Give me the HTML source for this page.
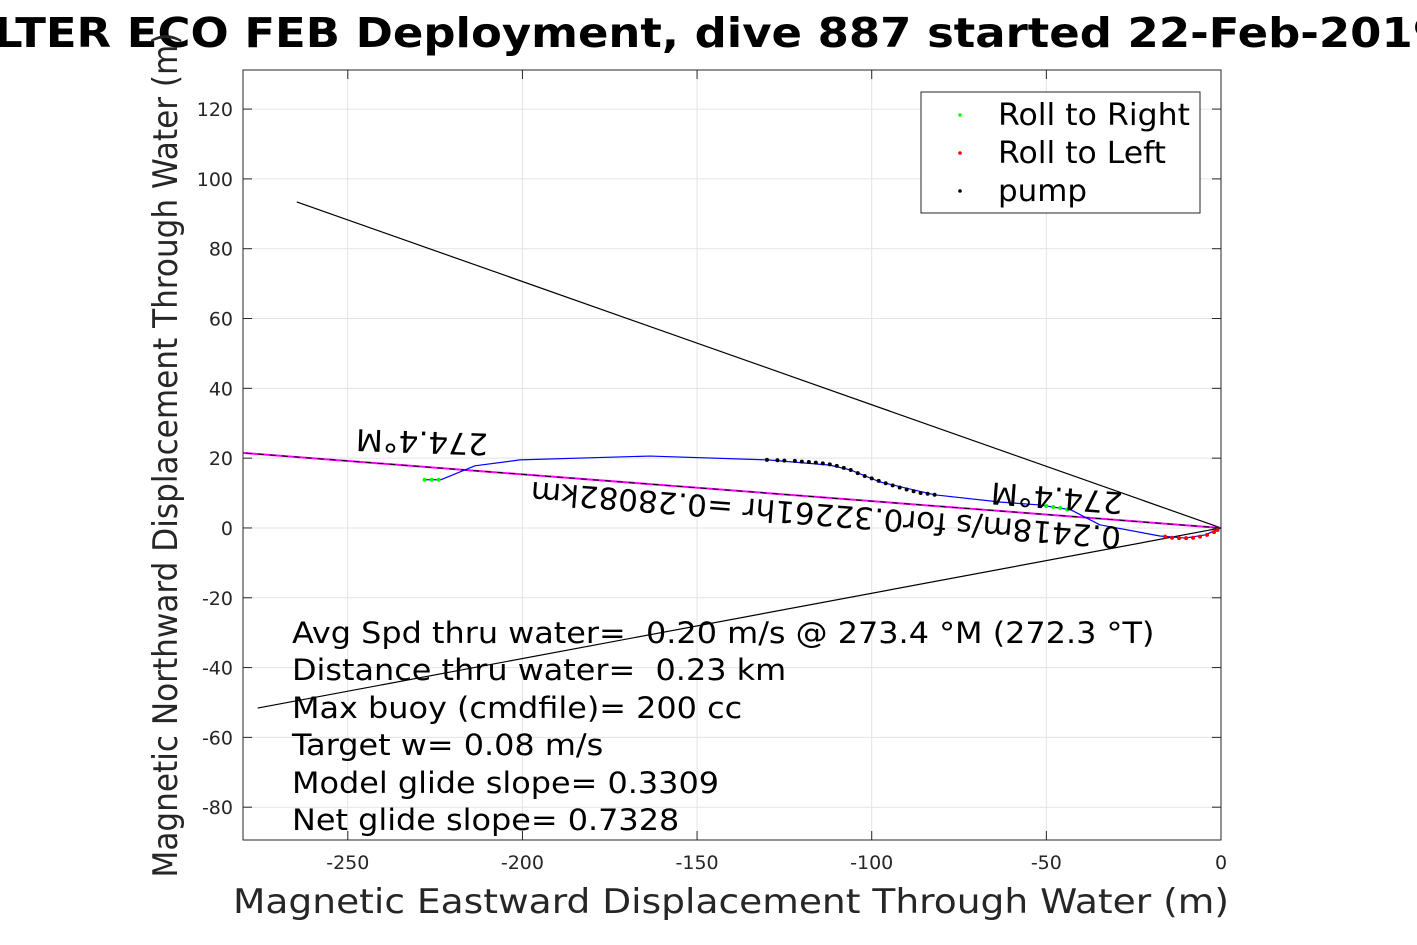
<!DOCTYPE html>
<html><head><meta charset="utf-8"><style>
body{margin:0;background:#fff;overflow:hidden}
svg{display:block;font-family:"DejaVu Sans","Liberation Sans",sans-serif}
text{white-space:pre}
</style></head><body>
<svg width="1417" height="945" viewBox="0 0 1417 945" xmlns="http://www.w3.org/2000/svg">
<rect width="1417" height="945" fill="#fff"/>
<g id="grid"></g>
<g id="marks"></g>
<rect x="243" y="70" width="978" height="770" fill="none" stroke="#262626" stroke-width="1"/>
<g id="ticks" font-size="19" fill="#262626"></g>
<text x="-6" y="47" font-size="41" font-weight="bold" fill="#000" textLength="1450" lengthAdjust="spacingAndGlyphs">LTER ECO FEB Deployment, dive 887 started 22-Feb-2019</text>
<text x="731" y="913" font-size="34" text-anchor="middle" fill="#262626" textLength="996" lengthAdjust="spacingAndGlyphs">Magnetic Eastward Displacement Through Water (m)</text>
<text transform="translate(177,455) rotate(-90)" font-size="34" text-anchor="middle" fill="#262626" textLength="845" lengthAdjust="spacingAndGlyphs">Magnetic Northward Displacement Through Water (m)</text>
<g>
<rect x="921" y="92" width="279" height="121" fill="#fff" stroke="#262626" stroke-width="1"/>
<circle cx="960" cy="115" r="1.8" fill="#00ff00"/><text x="998" y="125" font-size="30" textLength="192" lengthAdjust="spacingAndGlyphs">Roll to Right</text>
<circle cx="960" cy="153" r="1.8" fill="#ff0000"/><text x="998" y="163" font-size="30" textLength="168" lengthAdjust="spacingAndGlyphs">Roll to Left</text>
<circle cx="960" cy="191" r="1.8" fill="#000"/><text x="998" y="201" font-size="30" textLength="89" lengthAdjust="spacingAndGlyphs">pump</text>
</g>
<g font-size="29" fill="#000" transform="translate(292,0) scale(1.1,1) translate(-292,0)">
<text x="292" y="643" xml:space="preserve">Avg Spd thru water=  0.20 m/s @ 273.4 °M (272.3 °T)</text>
<text x="292" y="680" xml:space="preserve">Distance thru water=  0.23 km</text>
<text x="292" y="718">Max buoy (cmdfile)= 200 cc</text>
<text x="292" y="755">Target w= 0.08 m/s</text>
<text x="292" y="793">Model glide slope= 0.3309</text>
<text x="292" y="830">Net glide slope= 0.7328</text>
</g>
<text transform="translate(422,440) rotate(182)" font-size="30" text-anchor="middle" dominant-baseline="middle" textLength="132" lengthAdjust="spacingAndGlyphs">274.4°M</text>
<text transform="translate(1057,496) rotate(184.4)" font-size="30" text-anchor="middle" dominant-baseline="middle" textLength="132" lengthAdjust="spacingAndGlyphs">274.4°M</text>
<text transform="translate(826,513) rotate(184.4)" font-size="30" text-anchor="middle" dominant-baseline="middle" textLength="592" lengthAdjust="spacingAndGlyphs">0.2418m/s for0.32261hr =0.28082km</text>
<script>
const xTicks=[-250,-200,-150,-100,-50,0];
const yTicks=[-80,-60,-40,-20,0,20,40,60,80,100,120];
const trackX=[-228,-223.4,-213.6,-200.7,-163.5,-129.7,-112,-106,-97.7,-82,-63,-52,-43,-34.7,-17.5,-10.3,-4.6,0];
const trackY=[13.8,13.8,17.8,19.5,20.6,19.5,18,16.6,13.2,9.5,7.4,6.6,5.2,0.9,-2.3,-2.9,-2,0];
const pumpX=[-130,-127,-125,-122,-120,-118,-116,-114,-112,-110,-108,-106,-104,-102,-100,-98,-96,-94,-92,-90,-88,-86,-84,-82];
const pumpY=[19.5,19.4,19.3,19.2,19,18.9,18.7,18.5,18.2,17.8,17.2,16.6,15.7,14.9,14.2,13.5,12.8,12.2,11.6,11,10.5,10,9.8,9.5];
const greenX=[-228,-226,-224,-50,-48,-46,-44];
const greenY=[13.8,13.8,13.8,6.3,6,5.7,5.3];
const redX=[-16,-14,-12,-10,-8,-6,-4,-2,-1];
const redY=[-2.5,-2.8,-2.9,-2.9,-2.8,-2.5,-2,-1.2,-0.6];
const lineUpper=[[0,0],[-264.6,93.4]];
const lineLower=[[0,0],[-275.8,-51.6]];
const lineCurrent=[[0,0],[-280,21.5]];
const X0=243,X1=1221,Y0=70,Y1=840,xmin=-280,xmax=0,ymin=-89.4,ymax=131.2;
const sx=v=>X0+(v-xmin)/(xmax-xmin)*(X1-X0);
const sy=v=>Y1-(v-ymin)/(ymax-ymin)*(Y1-Y0);
const NS='http://www.w3.org/2000/svg';
function mk(p,t,a){const e=document.createElementNS(NS,t);for(const k in a)e.setAttribute(k,a[k]);p.appendChild(e);return e;}
const grid=document.getElementById('grid'),ticks=document.getElementById('ticks'),marks=document.getElementById('marks');
xTicks.forEach(v=>{const x=sx(v);
 const g=mk(grid,'line',{x1:x,x2:x,y1:Y0,y2:Y1,stroke:'#e3e3e3','stroke-width':1});
 
 const t=mk(ticks,'text',{x:x,y:869,'text-anchor':'middle'});t.textContent=v;
 
 mk(ticks,'line',{x1:x,x2:x,y1:Y1,y2:Y1-9,stroke:'#262626'});mk(ticks,'line',{x1:x,x2:x,y1:Y0,y2:Y0+9,stroke:'#262626'});});
yTicks.forEach(v=>{const y=sy(v);
 const g=mk(grid,'line',{x1:X0,x2:X1,y1:y,y2:y,stroke:'#e3e3e3','stroke-width':1});
 
 const t=mk(ticks,'text',{x:233,y:y+7,'text-anchor':'end'});t.textContent=v;
 
 mk(ticks,'line',{x1:X0,x2:X0+9,y1:y,y2:y,stroke:'#262626'});mk(ticks,'line',{x1:X1,x2:X1-9,y1:y,y2:y,stroke:'#262626'});});
function seg(pts,attrs,name){const l=mk(marks,'line',Object.assign({x1:sx(pts[0][0]),y1:sy(pts[0][1]),x2:sx(pts[1][0]),y2:sy(pts[1][1])},attrs));
 }
seg(lineUpper,{stroke:'#000','stroke-width':1.2},'upper-bound-line');
seg(lineLower,{stroke:'#000','stroke-width':1.2},'lower-bound-line');
seg(lineCurrent,{stroke:'#ff00ff','stroke-width':2},'current-line');
seg(lineCurrent,{stroke:'#000','stroke-width':1,'stroke-dasharray':'6 6'},'current-line-dash');
const tp=mk(marks,'polyline',{points:trackX.map((v,i)=>sx(v)+','+sy(trackY[i])).join(' '),fill:'none',stroke:'#0000ff','stroke-width':1.2,'stroke-linejoin':'round'});

function dots(xs,ys,c,name){xs.forEach((v,i)=>{const d=mk(marks,'circle',{cx:sx(v),cy:sy(ys[i]),r:2,fill:c});
 });}
dots(pumpX,pumpY,'#000','pump-point');
dots(greenX,greenY,'#00ff00','roll-right-point');
dots(redX,redY,'#ff0000','roll-left-point');
</script>
</svg>
</body></html>
